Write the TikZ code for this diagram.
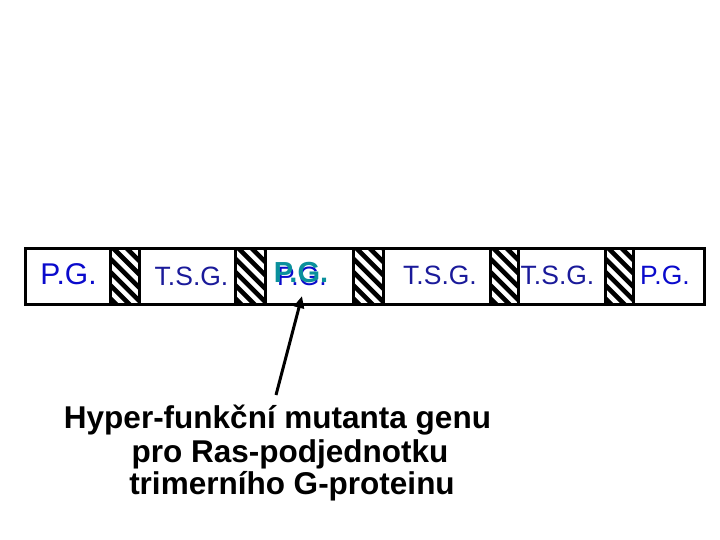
\documentclass[tikz,border=0pt]{standalone}
\usepackage{fontspec}
\setmainfont{Liberation Sans}
\usetikzlibrary{arrows.meta}
\definecolor{pgblue}{HTML}{0A0ACC}
\definecolor{tsgblue}{HTML}{1A1A9A}
\definecolor{pgteal}{HTML}{0A909C}
\tikzset{
  x=1pt, y=-1pt,
  seg/.style={draw=black, line width=3pt, fill=white, minimum height=56pt, inner sep=0pt, outer sep=0pt},
  hatchbox/.style={seg, path picture={
      \foreach \k in {-6,...,3}
        \draw[line width=4.6pt] ([xshift=\k*13.3pt, yshift=3pt]path picture bounding box.north west) -- ++(75pt,-75pt);
    }},
  pglabel/.style={anchor=base, text=pgblue, inner sep=0pt, font=\fontsize{30}{36}\selectfont},
  tsglabel/.style={anchor=base, text=tsgblue, inner sep=0pt, font=\fontsize{26.5}{32}\selectfont},
  caption/.style={anchor=base, inner sep=0pt, font=\fontsize{31.5}{38}\selectfont\bfseries},
  pointer/.style={line width=3pt, -{Triangle[length=12pt,width=10pt]}}
}
\begin{document}
\begin{tikzpicture}
\useasboundingbox (0,0) rectangle (720,540);
% gene segments
\node[seg, minimum width=85pt] (g1) at (67.5,276) {};
\node[hatchbox, minimum width=29pt] (h1) at (124.5,276) {};
\node[seg, minimum width=96pt] (g2) at (187,276) {};
\node[hatchbox, minimum width=30pt] (h2) at (250,276) {};
\node[seg, minimum width=88pt] (g3) at (309,276) {};
\node[hatchbox, minimum width=30pt] (h3) at (368,276) {};
\node[seg, minimum width=107pt] (g4) at (436.5,276) {};
\node[hatchbox, minimum width=28pt] (h4) at (504,276) {};
\node[seg, minimum width=87pt] (g5) at (561.5,276) {};
\node[hatchbox, minimum width=28pt] (h5) at (619,276) {};
\node[seg, minimum width=71pt] (g6) at (668.5,276) {};
% labels
\node[pglabel] (l1) at (68.5,284) {P.G.};
\node[tsglabel] (l2) at (191.5,285) {T.S.G.};
\node[tsglabel, text=pgblue] (l3a) at (302,285) {P.G.};
\node[anchor=base, inner sep=0pt, text=pgteal, font=\fontsize{29}{35}\selectfont\bfseries] (l3b) at (301,282) {P.G.};
\node[tsglabel] (l4) at (440,284) {T.S.G.};
\node[tsglabel] (l5) at (557.5,284) {T.S.G.};
\node[tsglabel, text=pgblue] (l6) at (665,284) {P.G.};
% caption
\node[caption] (c1) at (277.5,428) {Hyper-funkční mutanta genu};
\node[caption] (c2) at (290,462) {pro Ras-podjednotku};
\node[caption] (c3) at (292,494) {trimerního G-proteinu};
% pointer
\coordinate (tail) at (276,395);
\coordinate (tip) at (302,296);
\draw[pointer] (tail) -- (tip);
\end{tikzpicture}
\end{document}
